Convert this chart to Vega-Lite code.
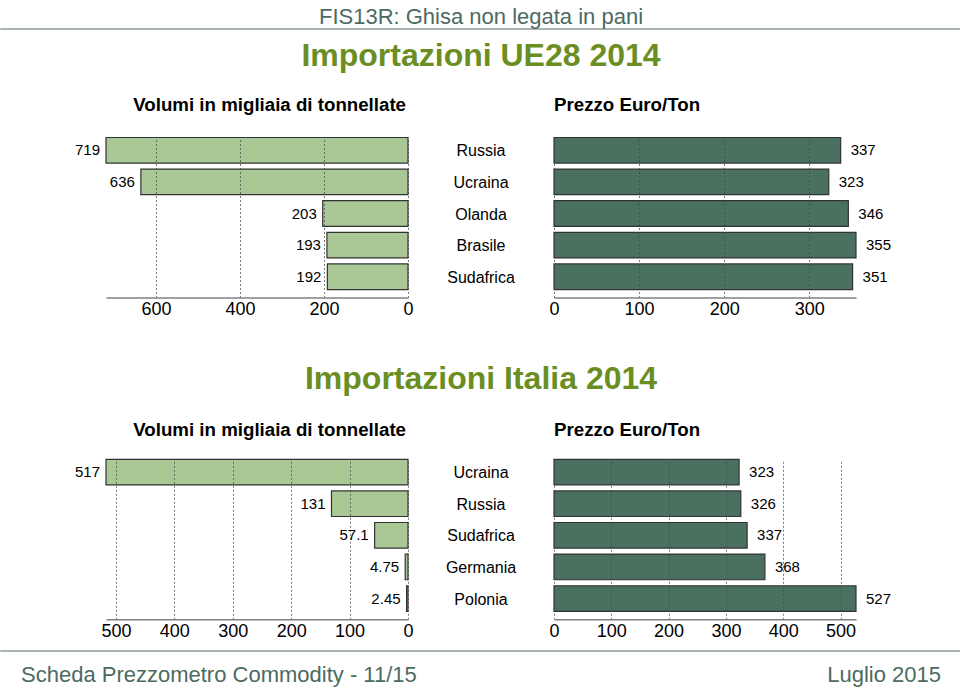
{
  "$schema": "https://vega.github.io/schema/vega-lite/v6.json",
  "padding": {"top": 5, "left": 0, "right": 0, "bottom": 0},
  "background": "white",
  "config": {
    "font": "Liberation Sans",
    "view": {"stroke": null},
    "axis": {
      "grid": true, "gridColor": "#444", "gridOpacity": 0.7, "gridDash": [2, 2], "gridWidth": 1,
      "ticks": false, "tickSize": 0, "labelPadding": 3, "labelFontSize": 18, "labelColor": "#000",
      "labelFont": "Liberation Sans", "labelFlush": false, "domainColor": "#808080", "domainWidth": 1.5,
      "zindex": 1
    },
    "title": {"font": "Liberation Sans", "color": "#000"},
    "text": {"font": "Liberation Sans"}
  },
  "datasets": {
    "header": [{"t": "FIS13R: Ghisa non legata in pani"}],
    "footer": [{"side": "a", "t": "Scheda Prezzometro Commodity - 11/15"}, {"side": "b", "t": "Luglio 2015"}],
    "ue": [
      {"paese": "Russia", "volume": 719, "prezzo": 337},
      {"paese": "Ucraina", "volume": 636, "prezzo": 323},
      {"paese": "Olanda", "volume": 203, "prezzo": 346},
      {"paese": "Brasile", "volume": 193, "prezzo": 355},
      {"paese": "Sudafrica", "volume": 192, "prezzo": 351}
    ],
    "it": [
      {"paese": "Ucraina", "volume": 517, "prezzo": 323},
      {"paese": "Russia", "volume": 131, "prezzo": 326},
      {"paese": "Sudafrica", "volume": 57.1, "prezzo": 337},
      {"paese": "Germania", "volume": 4.75, "prezzo": 368},
      {"paese": "Polonia", "volume": 2.45, "prezzo": 527}
    ]
  },
  "spacing": 9.5,
  "vconcat": [
    {
      "data": {"name": "header"},
      "width": 960, "height": 0.01,
      "view": {"stroke": "#8c9a94", "strokeWidth": 1.5},
      "mark": {"type": "text", "fontSize": 22, "baseline": "bottom", "color": "#4d6a5f"},
      "encoding": {"text": {"field": "t"}}
    },
    {
      "spacing": 43.8,
      "vconcat": [
        {
          "title": {"text": "Importazioni UE28 2014", "fontSize": 32, "fontWeight": "bold", "color": "#6b8e23", "anchor": "middle", "offset": 22.7},
          "spacing": 0,
          "bounds": "flush",
          "hconcat": [
            {
              "width": 407, "height": 160,
              "title": {"text": "Volumi in migliaia di tonnellate", "anchor": "end", "frame": "group", "fontSize": 18.7, "fontWeight": "bold", "offset": 22.6, "dx": -2},
              "data": {"name": "ue"},
              "encoding": {
                "y": {"field": "paese", "type": "nominal", "sort": null, "axis": null, "scale": {"type": "band", "paddingInner": 0.19, "paddingOuter": 0.126, "align": 0}},
                "x": {"field": "volume", "type": "quantitative", "scale": {"domain": [0, 719], "range": [407, 105], "nice": false}, "axis": {"values": [0, 200, 400, 600], "title": null, "zindex": 1}}
              },
              "layer": [
                {"mark": {"type": "bar", "fill": "#aac896", "stroke": "#333333", "strokeWidth": 1.2}},
                {"mark": {"type": "text", "align": "right", "baseline": "middle", "dx": -6, "fontSize": 15, "color": "#000"}, "encoding": {"text": {"field": "volume", "type": "quantitative"}}}
              ]
            },
            {
              "width": 146, "height": 160,
              "data": {"name": "ue"},
              "mark": {"type": "text", "fontSize": 16, "baseline": "middle", "dy": 1, "color": "#000"},
              "encoding": {
                "y": {"field": "paese", "type": "nominal", "sort": null, "axis": null, "scale": {"type": "band", "paddingInner": 0.19, "paddingOuter": 0.126, "align": 0}},
                "text": {"field": "paese"}
              }
            },
            {
              "width": 407, "height": 160,
              "title": {"text": "Prezzo Euro/Ton", "anchor": "start", "frame": "group", "fontSize": 18.7, "fontWeight": "bold", "offset": 22.6},
              "data": {"name": "ue"},
              "encoding": {
                "y": {"field": "paese", "type": "nominal", "sort": null, "axis": null, "scale": {"type": "band", "paddingInner": 0.19, "paddingOuter": 0.126, "align": 0}},
                "x": {"field": "prezzo", "type": "quantitative", "scale": {"domain": [0, 355], "range": [0, 302], "nice": false}, "axis": {"values": [0, 100, 200, 300], "title": null, "zindex": 1}}
              },
              "layer": [
                {"mark": {"type": "bar", "fill": "#4a7060", "stroke": "#333333", "strokeWidth": 1.2}},
                {"mark": {"type": "text", "align": "left", "baseline": "middle", "dx": 10, "fontSize": 15, "color": "#000"}, "encoding": {"text": {"field": "prezzo", "type": "quantitative"}}}
              ]
            }
          ]
        },
        {
          "title": {"text": "Importazioni Italia 2014", "fontSize": 32, "fontWeight": "bold", "color": "#6b8e23", "anchor": "middle", "offset": 25.6},
          "spacing": 0,
          "bounds": "flush",
          "hconcat": [
            {
              "width": 407, "height": 160,
              "title": {"text": "Volumi in migliaia di tonnellate", "anchor": "end", "frame": "group", "fontSize": 18.7, "fontWeight": "bold", "offset": 18.7, "dx": -2},
              "data": {"name": "it"},
              "encoding": {
                "y": {"field": "paese", "type": "nominal", "sort": null, "axis": null, "scale": {"type": "band", "paddingInner": 0.19, "paddingOuter": 0.126, "align": 0}},
                "x": {"field": "volume", "type": "quantitative", "scale": {"domain": [0, 517], "range": [407, 105], "nice": false}, "axis": {"values": [0, 100, 200, 300, 400, 500], "title": null, "zindex": 1}}
              },
              "layer": [
                {"mark": {"type": "bar", "fill": "#aac896", "stroke": "#333333", "strokeWidth": 1.2}},
                {"mark": {"type": "text", "align": "right", "baseline": "middle", "dx": -6, "fontSize": 15, "color": "#000"}, "encoding": {"text": {"field": "volume", "type": "quantitative"}}}
              ]
            },
            {
              "width": 146, "height": 160,
              "data": {"name": "it"},
              "mark": {"type": "text", "fontSize": 16, "baseline": "middle", "dy": 1, "color": "#000"},
              "encoding": {
                "y": {"field": "paese", "type": "nominal", "sort": null, "axis": null, "scale": {"type": "band", "paddingInner": 0.19, "paddingOuter": 0.126, "align": 0}},
                "text": {"field": "paese"}
              }
            },
            {
              "width": 407, "height": 160,
              "title": {"text": "Prezzo Euro/Ton", "anchor": "start", "frame": "group", "fontSize": 18.7, "fontWeight": "bold", "offset": 18.7},
              "data": {"name": "it"},
              "encoding": {
                "y": {"field": "paese", "type": "nominal", "sort": null, "axis": null, "scale": {"type": "band", "paddingInner": 0.19, "paddingOuter": 0.126, "align": 0}},
                "x": {"field": "prezzo", "type": "quantitative", "scale": {"domain": [0, 527], "range": [0, 302], "nice": false}, "axis": {"values": [0, 100, 200, 300, 400, 500], "title": null, "zindex": 1}}
              },
              "layer": [
                {"mark": {"type": "bar", "fill": "#4a7060", "stroke": "#333333", "strokeWidth": 1.2}},
                {"mark": {"type": "text", "align": "left", "baseline": "middle", "dx": 10, "fontSize": 15, "color": "#000"}, "encoding": {"text": {"field": "prezzo", "type": "quantitative"}}}
              ]
            }
          ]
        }
      ]
    },
    {
      "data": {"name": "footer"},
      "width": 960, "height": 0.01,
      "view": {"stroke": "#8c9a94", "strokeWidth": 1.5},
      "encoding": {
        "x": {"field": "side", "type": "nominal", "scale": {"type": "point", "domain": ["a", "b"], "padding": 0.0217391}, "axis": null},
        "text": {"field": "t"}
      },
      "layer": [
        {"transform": [{"filter": "datum.side == 'a'"}], "mark": {"type": "text", "align": "left", "baseline": "alphabetic", "dy": 31, "fontSize": 22, "color": "#4d6a5f"}},
        {"transform": [{"filter": "datum.side == 'b'"}], "mark": {"type": "text", "align": "right", "baseline": "alphabetic", "dy": 31, "fontSize": 22, "color": "#4d6a5f"}}
      ]
    }
  ]
}
